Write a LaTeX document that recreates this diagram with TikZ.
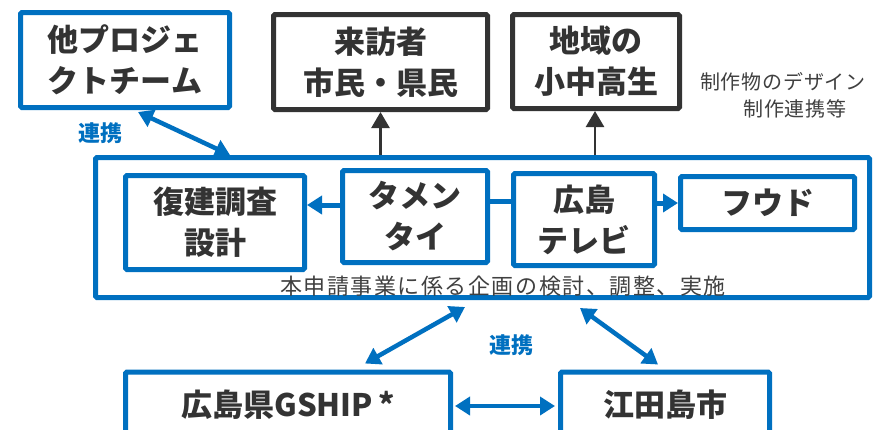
\documentclass[tikz,border=0pt]{standalone}
\usepackage{fontspec}
\newfontfamily\jp{Noto Sans CJK JP}
\usetikzlibrary{arrows.meta,calc}
\definecolor{cblue}{HTML}{0070C0}
\definecolor{cdark}{HTML}{333333}
\definecolor{ctext}{HTML}{333333}
\definecolor{cgray}{HTML}{404040}
\begin{document}
\begin{tikzpicture}[x=1pt,y=-1pt,
  bbox/.style={draw=cblue, line width=5pt, rounded corners=1.5pt, inner sep=0pt, fill=white,
    font=\jp\bfseries\fontsize{31}{41}\selectfont, text=ctext, align=center},
  dbox/.style={bbox, draw=cdark},
  barrow/.style={draw=cblue, line width=5pt, -{Triangle[length=15pt,width=18pt]}},
  bdarrow/.style={draw=cblue, line width=4.5pt, {Triangle[length=15pt,width=18pt]}-{Triangle[length=15pt,width=18pt]}},
  karrow/.style={draw=cdark, line width=2.5pt, -{Triangle[length=16pt,width=18pt]}},
  linklabel/.style={font=\jp\bfseries\fontsize{22}{24}\selectfont, text=cblue, inner sep=0pt},
  graytext/.style={font=\jp\fontsize{20}{24}\selectfont\addfontfeature{LetterSpace=4}, text=cgray, inner sep=0pt},
]
\useasboundingbox (0,0) rectangle (878,429);
\fill[white] (0,0) rectangle (878,429);

% top boxes
\node[bbox, minimum width=209pt, minimum height=95pt] (other) at (125,60) {他プロジェ\\クトチーム};
\node[dbox, minimum width=214pt, minimum height=95pt] (visit) at (380.5,62) {来訪者\\市民・県民};
\node[dbox, minimum width=167pt, minimum height=94pt] (stud) at (596,61.5) {地域の\\小中高生};
\node[graytext] (design1) at (783,82) {制作物のデザイン};
\node[graytext] (design2) at (795,109) {制作連携等};

% big frame
\node[bbox, minimum width=774pt, minimum height=140pt] (frame) at (482.5,227.5) {};
\node[bbox, minimum width=179pt, minimum height=94pt] (fukken) at (215,222.5) {復建調査\\設計};
\node[bbox, minimum width=145pt, minimum height=92pt] (tamen) at (415,216.5) {タメン\\タイ};
\node[bbox, minimum width=141pt, minimum height=92pt] (htv) at (584,219.5) {広島\\テレビ};
\node[bbox, minimum width=174pt, minimum height=53pt] (food) at (767.5,203) {フウド};
\node[graytext, font=\jp\fontsize{22}{24}\selectfont\addfontfeature{LetterSpace=7}] (main) at (503,286) {本申請事業に係る企画の検討、調整、実施};

% bottom boxes
\node[bbox, minimum width=325pt, minimum height=68pt] (gship) at (288,406) {\raisebox{5pt}{広島県GSHIP\,*}};
\node[bbox, minimum width=209pt, minimum height=68pt] (eda) at (665,406) {\raisebox{5pt}{江田島市}};

% labels
\node[linklabel] (link1) at (100,133) {連携};
\node[linklabel] (link2) at (511,345) {連携};

% connectors
\draw[bdarrow] ([xshift=13pt,yshift=-2pt]other.south) -- ([xshift=-252.5pt]frame.north);
\draw[karrow] (visit.south |- frame.north) -- (visit.south);
\draw[karrow] ([xshift=-1pt]stud.south |- frame.north) -- ([xshift=-1pt]stud.south);
\draw[barrow] ([yshift=11.5pt]tamen.west) -- ([yshift=11.5pt]tamen.west -| fukken.east);
\draw[draw=cblue, line width=5pt] ([yshift=15.5pt]tamen.east) -- ([yshift=15.5pt]tamen.east -| htv.west);
\draw[barrow] (food.west -| htv.east) -- (food.west);
\draw[bdarrow] ([xshift=77pt,yshift=6pt]gship.north) -- ([xshift=-17.5pt,yshift=-7pt]frame.south);
\draw[bdarrow] ([xshift=-7pt,yshift=5pt]eda.north) -- ([xshift=97.5pt,yshift=-8pt]frame.south);
\draw[bdarrow, shorten <=2pt, shorten >=3pt] (gship.east) -- (eda.west);
\end{tikzpicture}
\end{document}
